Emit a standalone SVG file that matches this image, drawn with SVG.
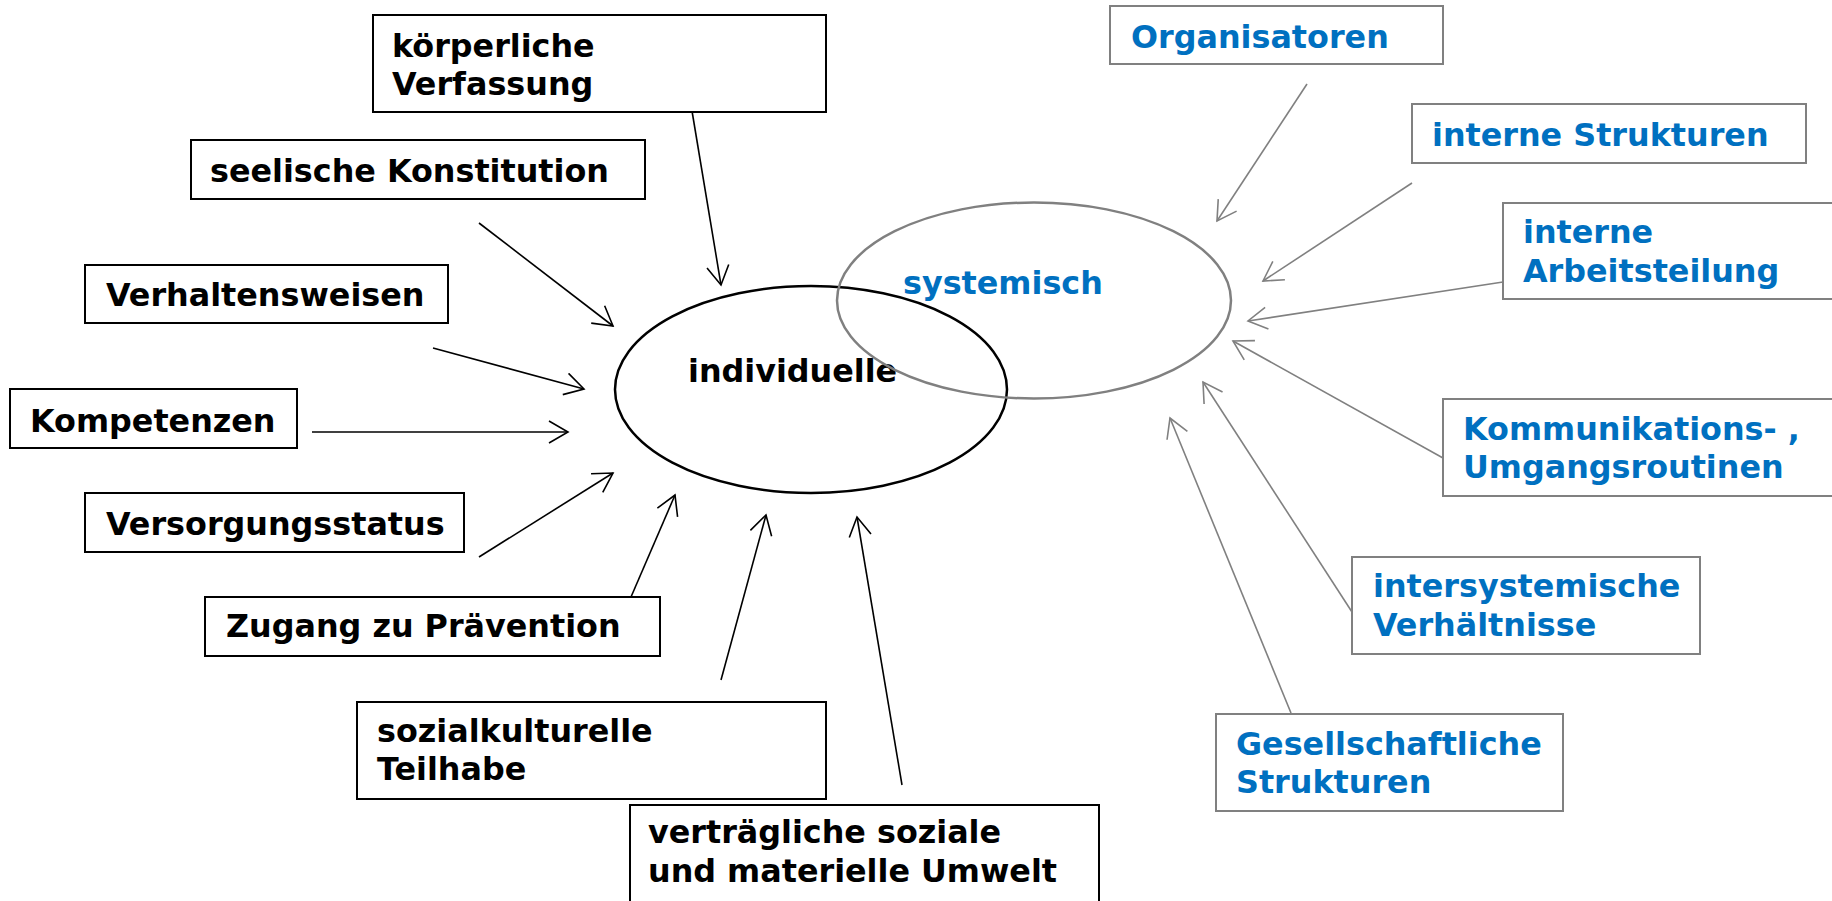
<svg xmlns="http://www.w3.org/2000/svg" width="1832" height="901" viewBox="0 0 1832 901">
<style>
.t{font-family:"DejaVu Sans","Verdana",sans-serif;font-weight:bold;font-size:31.8px}
.k{fill:#000}
.b{fill:#0070C0}
.bk{fill:#fff;stroke:#000;stroke-width:2}
.bg{fill:#fff;stroke:#808080;stroke-width:2}
.lk{stroke:#000;stroke-width:1.6;fill:none;marker-end:url(#ak)}
.lg{stroke:#808080;stroke-width:1.6;fill:none;marker-end:url(#ag)}
</style>
<defs>
<marker id="ak" markerUnits="userSpaceOnUse" markerWidth="22" markerHeight="24" viewBox="-1 -1 22 24" refX="19" refY="11" orient="auto">
<path d="M0,0 L19,11 L0,22" fill="none" stroke="#000" stroke-width="1.6"/>
</marker>
<marker id="ag" markerUnits="userSpaceOnUse" markerWidth="22" markerHeight="24" viewBox="-1 -1 22 24" refX="19" refY="11" orient="auto">
<path d="M0,0 L19,11 L0,22" fill="none" stroke="#808080" stroke-width="1.6"/>
</marker>
</defs>
<rect width="1832" height="901" fill="#fff"/>

<g id="individuelle">
<ellipse cx="811" cy="389.5" rx="196" ry="103.5" fill="none" stroke="#000" stroke-width="2.5"/>
<text class="t k" x="688" y="382">individuelle</text>
</g>
<g id="systemisch">
<ellipse cx="1034" cy="300.5" rx="197" ry="98" fill="none" stroke="#808080" stroke-width="2.5"/>
<text class="t b" x="903" y="294">systemisch</text>
</g>

<g id="connectors">
<line class="lk" x1="690" y1="99" x2="721" y2="285"/>
<line class="lk" x1="479" y1="223" x2="613" y2="326"/>
<line class="lk" x1="433" y1="348" x2="584" y2="389"/>
<line class="lk" x1="312" y1="432" x2="568" y2="432"/>
<line class="lk" x1="479" y1="557" x2="613" y2="473"/>
<line class="lk" x1="631" y1="597" x2="675" y2="495"/>
<line class="lk" x1="721" y1="680" x2="766" y2="515"/>
<line class="lk" x1="902" y1="785" x2="857" y2="517"/>
<line class="lg" x1="1307" y1="84" x2="1217" y2="221"/>
<line class="lg" x1="1412" y1="183" x2="1263" y2="281"/>
<line class="lg" x1="1503" y1="282" x2="1248" y2="321"/>
<line class="lg" x1="1443" y1="458" x2="1233" y2="341"/>
<line class="lg" x1="1352" y1="612" x2="1203" y2="382"/>
<line class="lg" x1="1291" y1="713" x2="1170" y2="418"/>
</g>

<g id="n-koerperliche">
<rect class="bk" x="373" y="15" width="453" height="97"/>
<text class="t k" x="392" y="57">körperliche</text>
<text class="t k" x="392" y="95">Verfassung</text>
</g>
<g id="n-seelische">
<rect class="bk" x="191" y="140" width="454" height="59"/>
<text class="t k" x="210" y="182">seelische Konstitution</text>
</g>
<g id="n-verhalten">
<rect class="bk" x="85" y="265" width="363" height="58"/>
<text class="t k" x="106" y="306">Verhaltensweisen</text>
</g>
<g id="n-kompetenzen">
<rect class="bk" x="10" y="389" width="287" height="59"/>
<text class="t k" x="30" y="432">Kompetenzen</text>
</g>
<g id="n-versorgung">
<rect class="bk" x="85" y="493" width="379" height="59"/>
<text class="t k" x="106" y="535">Versorgungsstatus</text>
</g>
<g id="n-zugang">
<rect class="bk" x="205" y="597" width="455" height="59"/>
<text class="t k" x="226" y="637">Zugang zu Prävention</text>
</g>
<g id="n-sozialkulturelle">
<rect class="bk" x="357" y="702" width="469" height="97"/>
<text class="t k" x="377" y="742">sozialkulturelle</text>
<text class="t k" x="377" y="780">Teilhabe</text>
</g>
<g id="n-vertraeglich">
<rect class="bk" x="630" y="805" width="469" height="110"/>
<text class="t k" x="648" y="843">verträgliche soziale</text>
<text class="t k" x="648" y="882">und materielle Umwelt</text>
</g>

<g id="n-organisatoren">
<rect class="bg" x="1110" y="6" width="333" height="58"/>
<text class="t b" x="1131" y="48">Organisatoren</text>
</g>
<g id="n-interne-strukturen">
<rect class="bg" x="1412" y="104" width="394" height="59"/>
<text class="t b" x="1432" y="146">interne Strukturen</text>
</g>
<g id="n-arbeitsteilung">
<rect class="bg" x="1503" y="203" width="360" height="96"/>
<text class="t b" x="1523" y="243">interne</text>
<text class="t b" x="1523" y="282">Arbeitsteilung</text>
</g>
<g id="n-kommunikation">
<rect class="bg" x="1443" y="399" width="420" height="97"/>
<text class="t b" x="1463" y="440">Kommunikations- ,</text>
<text class="t b" x="1463" y="478">Umgangsroutinen</text>
</g>
<g id="n-intersystemisch">
<rect class="bg" x="1352" y="557" width="348" height="97"/>
<text class="t b" x="1373" y="597">intersystemische</text>
<text class="t b" x="1373" y="636">Verhältnisse</text>
</g>
<g id="n-gesellschaft">
<rect class="bg" x="1216" y="714" width="347" height="97"/>
<text class="t b" x="1236" y="755">Gesellschaftliche</text>
<text class="t b" x="1236" y="793">Strukturen</text>
</g>
</svg>
